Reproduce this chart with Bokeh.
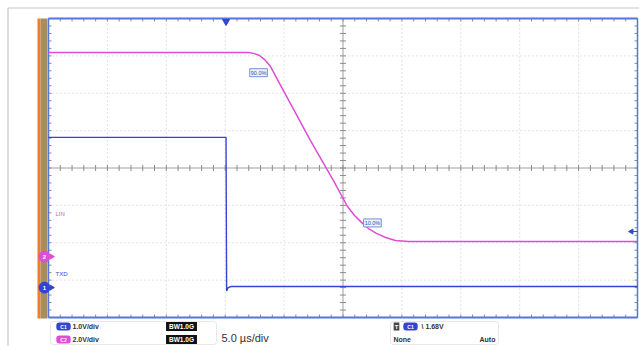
import numpy as np
from bokeh.plotting import figure
from bokeh.models import Range1d, Label, BoxAnnotation
from bokeh.core.properties import value
from bokeh.embed import file_html
from bokeh.resources import INLINE

# ---------------- data ----------------
time_lin_us = [-25.0, -8.02, -7.51, -7.09, -6.66, -6.15, -5.56, -2.76, -0.81,
               0.38, 0.98, 1.57, 2.16, 2.84, 3.61, 4.46, 5.56, 25.0]
lin_v = [10.92, 10.92, 10.86, 10.76, 10.54, 10.17, 9.47, 6.21, 4.07,
         2.68, 2.20, 1.83, 1.50, 1.24, 1.02, 0.86, 0.81, 0.81]

time_txd_us = [-25.0, -9.93, -9.88, -9.75, -9.5, 25.0]
txd_v = [4.02, 4.02, -0.09, 0.0, 0.03, 0.03]

ch1_name, ch1_vdiv, ch1_ground_div = "TXD", 1.0, -3.2
ch2_name, ch2_vdiv, ch2_ground_div = "LIN", 2.0, -2.37
time_per_div_us = 5.0
h_divs, v_divs = 10, 8
trigger_time_us = -9.93
trigger_marker_div = -1.70
trigger_text = "1.68V"

meas_text = ["90.0%", "10.0%"]
meas_time_us = [-7.17, 2.5]
meas_lin_v = [9.84, 1.80]

ch_texts = ["1.0V/div", "2.0V/div"]
bw_texts = ["BW1.0G", "BW1.0G"]
timebase_text = "5.0 \u00b5s/div"

PINK = "#e04cd6"
BLUE = "#3444d2"
FONT = "Liberation Sans"

# ---------------- geometry (page pixels of the graticule) ----------------
W, H = 639, 346
GL, GR, GT, GB = 48, 637, 18, 317
X0, X1 = -h_divs / 2 * time_per_div_us, h_divs / 2 * time_per_div_us
Y0, Y1 = -v_divs / 2, v_divs / 2
PXT = (GR - GL) / (X1 - X0)
PXD = (GB - GT) / (Y1 - Y0)


def tx(page_x):
    return X0 + (page_x - GL) / PXT


def dy(page_y):
    return Y1 - (page_y - GT) / PXD


lin_div = [v / ch2_vdiv + ch2_ground_div for v in lin_v]
txd_div = [v / ch1_vdiv + ch1_ground_div for v in txd_v]

p = figure(width=W, height=H, x_range=Range1d(tx(0), tx(W)), y_range=Range1d(dy(H), dy(0)),
           x_axis_location=None, y_axis_location=None, toolbar_location=None,
           output_backend="svg", min_border=0)
p.min_border_left = p.min_border_right = p.min_border_top = p.min_border_bottom = 0
p.background_fill_color = "white"
p.border_fill_color = "white"
p.outline_line_color = None
p.xgrid.visible = False
p.ygrid.visible = False

# dotted division grid
gx = [X0 + k * time_per_div_us for k in range(1, h_divs) if k != h_divs // 2]
gy = [Y0 + k for k in range(1, v_divs) if k != v_divs // 2]
p.segment(gx, Y0, gx, Y1, line_color="#c8c8c8", line_dash="1 3", line_width=1)
p.segment(X0, gy, X1, gy, line_color="#c8c8c8", line_dash="1 3", line_width=1)

# centre cross
p.segment([0, X0], [Y0, 0], [0, X1], [Y1, 0], line_color="#a0a0a0", line_width=1)

# graticule minor ticks
xt = np.arange(X0, X1 + 1e-9, time_per_div_us / 5)
yt = np.arange(Y0, Y1 + 1e-9, 0.2)
lt = 3 / PXD
lx = 3 / PXT
tick_col = "#8c8c8c"
p.segment(xt, Y1, xt, Y1 - lt, line_color=tick_col, line_width=1)
p.segment(xt, Y0, xt, Y0 + lt, line_color=tick_col, line_width=1)
p.segment(xt, -lt, xt, lt, line_color=tick_col, line_width=1)
p.segment(X0, yt, X0 + lx, yt, line_color=tick_col, line_width=1)
p.segment(X1, yt, X1 - lx, yt, line_color=tick_col, line_width=1)
p.segment(-lx, yt, lx, yt, line_color=tick_col, line_width=1)

# graticule border
p.segment([X0, X0], [Y1, Y0], [X1, X1], [Y1, Y0], line_color="#5575e0", line_width=2)
p.segment([X0, X1], [Y0, Y0], [X0, X1], [Y1, Y1], line_color="#5575e0", line_width=1.5)

# traces
p.line(time_lin_us, lin_div, line_color=PINK, line_width=1.5)
p.line(time_txd_us, txd_div, line_color=BLUE, line_width=1.4)

# trigger markers
p.scatter([trigger_time_us], [Y1 - 3 / PXD], marker="inverted_triangle", size=7,
          fill_color=BLUE, line_color=BLUE)
p.scatter([X1 - 6 / PXT], [trigger_marker_div], marker="triangle", angle=np.pi / 2,
          size=5, fill_color=BLUE, line_color=BLUE)
p.segment([X1 - 5 / PXT], [trigger_marker_div], [X1], [trigger_marker_div],
          line_color=BLUE, line_width=1)

# left colour strip
p.quad(left=tx(37), right=tx(40), top=dy(GT), bottom=dy(GB + 1),
       fill_color="#ee7d2c", line_color=None)
p.quad(left=tx(40), right=tx(GL - 1), top=dy(GT), bottom=dy(GB + 1),
       fill_color="#a88e5c", line_color=None)

# ground markers
gdivs = [ch2_ground_div, ch1_ground_div]
gcols = [PINK, BLUE]
p.scatter([tx(GL + 3)] * 2, gdivs, marker="triangle", angle=-np.pi / 2, size=5,
          fill_color=gcols, line_color=gcols)
p.scatter([tx(44)] * 2, gdivs, marker="circle", size=11, fill_color=gcols, line_color=gcols)
p.text([tx(44)] * 2, gdivs, text=["2", "1"], text_font=value(FONT), text_font_size="6px",
       text_color="white", text_align="center", text_baseline="middle", text_font_style="bold")

# channel labels
p.add_layout(Label(x=tx(55), y=dy(213), text=ch2_name, text_font=FONT,
                   text_font_size="6px", text_color=PINK, text_baseline="middle"))
p.add_layout(Label(x=tx(55), y=dy(273), text=ch1_name, text_font=FONT,
                   text_font_size="6px", text_color=BLUE, text_baseline="middle"))

# measurement callouts
for t, v, s in zip(meas_time_us, meas_lin_v, meas_text):
    p.add_layout(Label(x=t, y=v / ch2_vdiv + ch2_ground_div, text=s, text_font=FONT,
                       text_font_size="5.5px", text_color="#3050a0", text_align="center",
                       text_baseline="middle", background_fill_color="#eef4ff",
                       border_line_color="#7090d8", border_line_width=1, padding=1))

# outer frame
p.add_layout(BoxAnnotation(left=tx(7.5), right=tx(W + 20), top=dy(7.5), bottom=dy(H + 20),
                           fill_color=None, fill_alpha=0, line_color="#444444", line_width=1.2))

# bottom info boxes
for l, r in ((50, 216), (390, 498)):
    p.add_layout(BoxAnnotation(left=tx(l), right=tx(r), top=dy(321), bottom=dy(344),
                               fill_color="white", fill_alpha=1, line_color="#b4b4b4",
                               line_width=1, border_radius=3))

rows_y = [326, 339]
for yy, col, cname, ctext, bw in zip(rows_y, [BLUE, PINK], ["C1", "C2"], ch_texts, bw_texts):
    p.add_layout(Label(x=tx(63), y=dy(yy), text=cname, text_font=FONT,
                       text_font_size="5px", text_font_style="bold", text_color="white",
                       text_align="center", text_baseline="middle",
                       background_fill_color=col, border_radius=3, padding=(4, 1)))
    p.add_layout(Label(x=tx(72), y=dy(yy), text=ctext, text_font=FONT,
                       text_font_size="7px", text_font_style="bold", text_color="#333333",
                       text_baseline="middle"))
    p.add_layout(Label(x=tx(181), y=dy(yy), text=bw, text_font=FONT,
                       text_font_size="6.5px", text_font_style="bold", text_color="white",
                       text_align="center", text_baseline="middle",
                       background_fill_color="#111111", padding=(3, 1)))

p.add_layout(Label(x=tx(221), y=dy(337), text=timebase_text, text_font=FONT,
                   text_font_size="11px", text_color="#333333", text_baseline="middle"))

p.add_layout(Label(x=tx(396), y=dy(326), text="T", text_font=FONT,
                   text_font_size="6px", text_font_style="bold", text_color="white",
                   text_align="center", text_baseline="middle",
                   background_fill_color="#444444", padding=1))
p.add_layout(Label(x=tx(410), y=dy(326), text="C1", text_font=FONT,
                   text_font_size="5px", text_font_style="bold", text_color="white",
                   text_align="center", text_baseline="middle",
                   background_fill_color=BLUE, border_radius=3, padding=(4, 1)))
p.add_layout(Label(x=tx(421), y=dy(326), text="\\ " + trigger_text, text_font=FONT,
                   text_font_size="7px", text_font_style="bold", text_color="#333333",
                   text_baseline="middle"))
p.add_layout(Label(x=tx(393), y=dy(339), text="None", text_font=FONT,
                   text_font_size="7px", text_font_style="bold", text_color="#333333",
                   text_baseline="middle"))
p.add_layout(Label(x=tx(479), y=dy(339), text="Auto", text_font=FONT,
                   text_font_size="7px", text_font_style="bold", text_color="#333333",
                   text_baseline="middle"))

open("out.html", "w").write(file_html(p, INLINE))
